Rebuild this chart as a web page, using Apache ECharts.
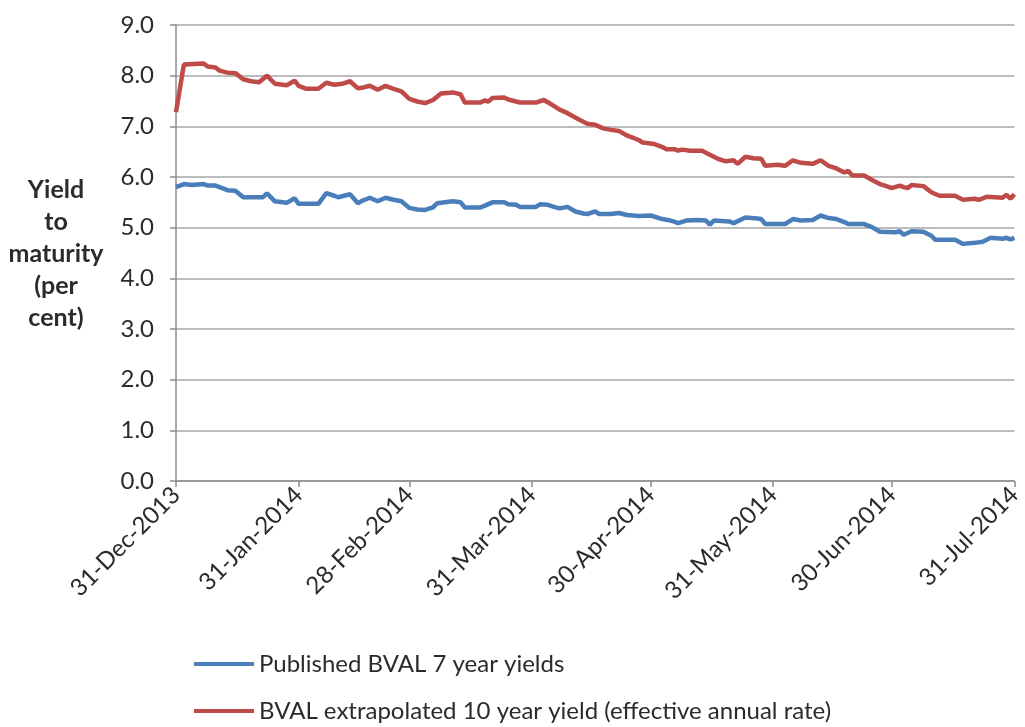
<!DOCTYPE html>
<html>
<head>
<meta charset="utf-8">
<script src="https://cdn.jsdelivr.net/npm/echarts@6/dist/echarts.min.js"></script>
<style>
  html, body { margin: 0; padding: 0; background: #fff; }
  #chart { width: 1025px; height: 727px; }
</style>
</head>
<body>
<div id="chart"></div>
<script>
// readings taken off the chart: [date, yield %]
var bval7 = [
    ['2013-12-31', 5.80], ['2014-01-02', 5.86], ['2014-01-04', 5.84], ['2014-01-07', 5.86],
    ['2014-01-08', 5.83], ['2014-01-10', 5.83], ['2014-01-13', 5.74], ['2014-01-15', 5.73],
    ['2014-01-17', 5.60], ['2014-01-22', 5.60], ['2014-01-23', 5.68], ['2014-01-25', 5.52],
    ['2014-01-28', 5.49], ['2014-01-30', 5.58], ['2014-01-31', 5.47], ['2014-02-05', 5.47],
    ['2014-02-07', 5.68], ['2014-02-09', 5.63], ['2014-02-10', 5.60], ['2014-02-13', 5.66],
    ['2014-02-15', 5.48], ['2014-02-16', 5.53], ['2014-02-18', 5.59], ['2014-02-20', 5.52],
    ['2014-02-22', 5.59], ['2014-02-24', 5.55], ['2014-02-26', 5.52], ['2014-02-28', 5.39],
    ['2014-03-02', 5.36], ['2014-03-04', 5.35], ['2014-03-06', 5.40], ['2014-03-07', 5.48],
    ['2014-03-11', 5.52], ['2014-03-13', 5.50], ['2014-03-14', 5.40], ['2014-03-18', 5.40],
    ['2014-03-19', 5.43], ['2014-03-21', 5.50], ['2014-03-24', 5.50], ['2014-03-25', 5.46],
    ['2014-03-27', 5.45], ['2014-03-28', 5.41], ['2014-04-01', 5.41], ['2014-04-02', 5.46],
    ['2014-04-04', 5.45], ['2014-04-06', 5.40], ['2014-04-07', 5.38], ['2014-04-09', 5.41],
    ['2014-04-11', 5.32], ['2014-04-13', 5.28], ['2014-04-14', 5.27], ['2014-04-16', 5.32],
    ['2014-04-17', 5.27], ['2014-04-20', 5.27], ['2014-04-22', 5.29], ['2014-04-24', 5.25],
    ['2014-04-27', 5.23], ['2014-04-30', 5.24], ['2014-05-03', 5.17], ['2014-05-05', 5.14],
    ['2014-05-06', 5.12], ['2014-05-07', 5.09], ['2014-05-09', 5.14], ['2014-05-12', 5.15],
    ['2014-05-14', 5.14], ['2014-05-15', 5.06], ['2014-05-16', 5.14], ['2014-05-20', 5.12],
    ['2014-05-21', 5.09], ['2014-05-24', 5.20], ['2014-05-27', 5.18], ['2014-05-28', 5.17],
    ['2014-05-29', 5.07], ['2014-06-03', 5.07], ['2014-06-05', 5.17], ['2014-06-07', 5.14],
    ['2014-06-10', 5.15], ['2014-06-12', 5.24], ['2014-06-14', 5.19], ['2014-06-16', 5.17],
    ['2014-06-18', 5.11], ['2014-06-19', 5.07], ['2014-06-23', 5.07], ['2014-06-25', 5.01],
    ['2014-06-27', 4.92], ['2014-07-01', 4.91], ['2014-07-02', 4.93], ['2014-07-03', 4.86],
    ['2014-07-05', 4.93], ['2014-07-08', 4.92], ['2014-07-10', 4.84], ['2014-07-11', 4.76],
    ['2014-07-16', 4.76], ['2014-07-18', 4.68], ['2014-07-21', 4.70], ['2014-07-23', 4.72],
    ['2014-07-25', 4.80], ['2014-07-28', 4.78], ['2014-07-29', 4.80], ['2014-07-30', 4.77],
    ['2014-07-31', 4.80]
];
var bval10 = [
    ['2013-12-31', 7.28], ['2014-01-02', 8.22], ['2014-01-07', 8.24], ['2014-01-08', 8.18],
    ['2014-01-10', 8.16], ['2014-01-11', 8.10], ['2014-01-13', 8.06], ['2014-01-15', 8.05],
    ['2014-01-17', 7.93], ['2014-01-19', 7.89], ['2014-01-21', 7.87], ['2014-01-23', 8.00],
    ['2014-01-25', 7.84], ['2014-01-28', 7.81], ['2014-01-30', 7.90], ['2014-01-31', 7.80],
    ['2014-02-02', 7.74], ['2014-02-05', 7.74], ['2014-02-07', 7.86], ['2014-02-09', 7.82],
    ['2014-02-11', 7.84], ['2014-02-13', 7.89], ['2014-02-15', 7.75], ['2014-02-16', 7.76],
    ['2014-02-18', 7.80], ['2014-02-20', 7.72], ['2014-02-22', 7.80], ['2014-02-24', 7.74],
    ['2014-02-26', 7.69], ['2014-02-28', 7.54], ['2014-03-02', 7.49], ['2014-03-04', 7.46],
    ['2014-03-06', 7.52], ['2014-03-08', 7.65], ['2014-03-11', 7.67], ['2014-03-13', 7.63],
    ['2014-03-14', 7.47], ['2014-03-18', 7.47], ['2014-03-19', 7.51], ['2014-03-20', 7.49],
    ['2014-03-21', 7.56], ['2014-03-24', 7.57], ['2014-03-25', 7.53], ['2014-03-28', 7.47],
    ['2014-04-01', 7.47], ['2014-04-03', 7.52], ['2014-04-05', 7.43], ['2014-04-07', 7.33],
    ['2014-04-09', 7.26], ['2014-04-12', 7.13], ['2014-04-14', 7.05], ['2014-04-16', 7.03],
    ['2014-04-18', 6.96], ['2014-04-20', 6.93], ['2014-04-22', 6.91], ['2014-04-24', 6.82],
    ['2014-04-27', 6.73], ['2014-04-28', 6.68], ['2014-05-01', 6.65], ['2014-05-03', 6.59],
    ['2014-05-04', 6.55], ['2014-05-06', 6.55], ['2014-05-07', 6.52], ['2014-05-08', 6.54],
    ['2014-05-10', 6.52], ['2014-05-13', 6.52], ['2014-05-15', 6.44], ['2014-05-17', 6.36],
    ['2014-05-19', 6.31], ['2014-05-21', 6.33], ['2014-05-22', 6.26], ['2014-05-24', 6.40],
    ['2014-05-26', 6.37], ['2014-05-28', 6.36], ['2014-05-29', 6.22], ['2014-06-01', 6.24],
    ['2014-06-03', 6.22], ['2014-06-05', 6.33], ['2014-06-07', 6.28], ['2014-06-10', 6.26],
    ['2014-06-12', 6.33], ['2014-06-14', 6.22], ['2014-06-16', 6.17], ['2014-06-18', 6.09],
    ['2014-06-19', 6.12], ['2014-06-20', 6.03], ['2014-06-23', 6.03], ['2014-06-25', 5.94],
    ['2014-06-27', 5.86], ['2014-06-29', 5.81], ['2014-06-30', 5.78], ['2014-07-02', 5.83],
    ['2014-07-03', 5.80], ['2014-07-04', 5.78], ['2014-07-05', 5.84], ['2014-07-08', 5.82],
    ['2014-07-10', 5.70], ['2014-07-12', 5.63], ['2014-07-16', 5.63], ['2014-07-18', 5.55],
    ['2014-07-21', 5.57], ['2014-07-22', 5.55], ['2014-07-24', 5.61], ['2014-07-26', 5.60],
    ['2014-07-28', 5.59], ['2014-07-29', 5.65], ['2014-07-30', 5.57], ['2014-07-31', 5.66]
];
var seriesNames = ['Published BVAL 7 year yields', 'BVAL extrapolated 10 year yield (effective annual rate)'];
var tickDates = ['2013-12-31', '2014-01-31', '2014-02-28', '2014-03-31', '2014-04-30', '2014-05-31', '2014-06-30', '2014-07-31'];
var monthNames = ['Jan', 'Feb', 'Mar', 'Apr', 'May', 'Jun', 'Jul', 'Aug', 'Sep', 'Oct', 'Nov', 'Dec'];

function toTime(s) {
    var p = s.split('-');
    return new Date(+p[0], +p[1] - 1, +p[2]).getTime();
}
function toPoints(arr) {
    return arr.map(function (d) { return [toTime(d[0]), d[1]]; });
}
function fmtDate(t) {
    var d = new Date(t);
    var dd = d.getDate();
    return (dd < 10 ? '0' + dd : dd) + '-' + monthNames[d.getMonth()] + '-' + d.getFullYear();
}

var ticks = tickDates.map(toTime);
var textColor = '#2b2b2b';
var font = 'Lato';

var myChart = echarts.init(document.getElementById('chart'));
var option = {
    animation: false,
    backgroundColor: '#fff',
    textStyle: { fontFamily: font },
    grid: { left: 176, right: 8, top: 25, bottom: 246 },
    legend: {
        orient: 'vertical',
        left: 194,
        top: 652,
        padding: 0,
        itemWidth: 60,
        itemHeight: 4,
        itemGap: 23,
        icon: 'rect',
        textStyle: { fontSize: 24, color: textColor, fontFamily: font, lineHeight: 24 },
        data: seriesNames
    },
    graphic: [{
        type: 'text',
        x: 56,
        y: 174,
        style: {
            text: 'Yield\nto\nmaturity\n(per\ncent)',
            align: 'center',
            textAlign: 'center',
            fontFamily: font,
            fontWeight: 'bold',
            fontSize: 25,
            lineHeight: 32,
            fill: textColor
        }
    }],
    // dates are plotted on a value axis of timestamps so the ticks can sit on month ends
    xAxis: {
        type: 'value',
        min: ticks[0],
        max: ticks[ticks.length - 1],
        axisLine: { lineStyle: { color: '#8c8c8c', width: 1.5 } },
        axisTick: { show: true, length: 6, customValues: ticks, lineStyle: { color: '#8c8c8c', width: 1.5 } },
        axisLabel: {
            customValues: ticks,
            rotate: 45,
            margin: 10,
            fontSize: 24,
            color: textColor,
            fontFamily: font,
            formatter: function (v) { return fmtDate(v); }
        },
        splitLine: { show: false }
    },
    yAxis: {
        type: 'value',
        min: 0,
        max: 9,
        interval: 1,
        axisLine: { show: true, lineStyle: { color: '#8c8c8c', width: 1.5 } },
        axisTick: { show: true, length: 6, lineStyle: { color: '#8c8c8c', width: 1.5 } },
        axisLabel: {
            margin: 22,
            fontSize: 24,
            color: textColor,
            fontFamily: font,
            formatter: function (v) { return v.toFixed(1); }
        },
        splitLine: { lineStyle: { color: '#a6a6a6', width: 1.5 } }
    },
    series: [
        {
            name: seriesNames[0],
            type: 'line',
            showSymbol: false,
            symbol: 'none',
            color: '#4a7ebb',
            lineStyle: { width: 4.5, color: '#4a7ebb' },
            data: toPoints(bval7)
        },
        {
            name: seriesNames[1],
            type: 'line',
            showSymbol: false,
            symbol: 'none',
            color: '#be4b48',
            lineStyle: { width: 4.5, color: '#be4b48' },
            data: toPoints(bval10)
        }
    ]
};

if (option && typeof option === "object") {
    myChart.setOption(option, true);
}
</script>
</body>
</html>
